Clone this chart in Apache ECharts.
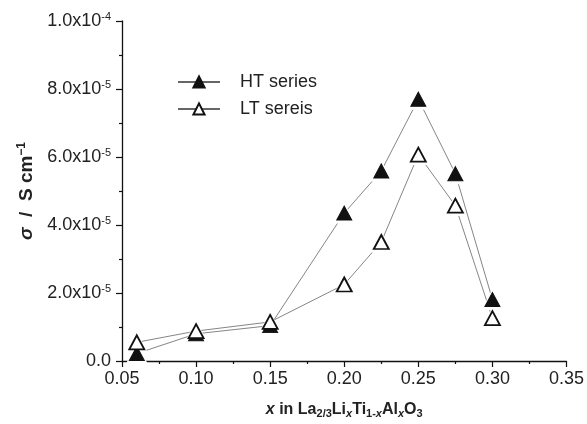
<!DOCTYPE html>
<html>
<head>
<meta charset="utf-8">
<script src="https://cdn.jsdelivr.net/npm/echarts@6/dist/echarts.min.js"></script>
<style>html,body{margin:0;padding:0;background:#fff}#c{width:587px;height:424px}</style>
</head>
<body>
<div id="c"></div>
<script>
const xValues = [0.06, 0.10, 0.15, 0.20, 0.225, 0.25, 0.275, 0.30];
const htSeries = [0.22e-5, 0.80e-5, 1.04e-5, 4.35e-5, 5.59e-5, 7.70e-5, 5.51e-5, 1.81e-5];
const ltSeries = [0.55e-5, 0.88e-5, 1.15e-5, 2.25e-5, 3.50e-5, 6.07e-5, 4.57e-5, 1.26e-5];
const seriesNames = ['HT series', 'LT sereis'];
const xTickLabels = ['0.05', '0.10', '0.15', '0.20', '0.25', '0.30', '0.35'];
const yTickMantissa = ['0.0', '2.0', '4.0', '6.0', '8.0', '1.0'];
const yTickExponent = ['', '-5', '-5', '-5', '-5', '-4'];

const font = 'Liberation Sans, Arial, sans-serif';
const txt = '#222';
const chart = echarts.init(document.getElementById('c'), null, {renderer: 'canvas'});

function pairs(ys) { return xValues.map((x, i) => [x, ys[i]]); }

const markSize = [15, 14];
const haloSize = [22, 21];
const htStyle = {color: '#111', borderColor: '#111', borderWidth: 1, opacity: 1};
const ltStyle = {color: '#fff', borderColor: '#111', borderWidth: 1.8, opacity: 1};

chart.setOption({
  animation: false,
  backgroundColor: '#fff',
  textStyle: {fontFamily: font},
  grid: {left: 122, right: 19, top: 21, bottom: 62},
  legend: {
    left: 172, top: 68, orient: 'vertical', itemGap: 9,
    itemWidth: 42, itemHeight: 14,
    textStyle: {fontFamily: font, fontSize: 18, color: txt, padding: [0, 0, 0, 15]},
    data: seriesNames
  },
  xAxis: {
    type: 'value', min: 0.05, max: 0.35, interval: 0.05,
    axisLine: {lineStyle: {color: '#111', width: 1.3}},
    axisTick: {inside: false, length: 6, lineStyle: {color: '#111', width: 1.2}},
    minorTick: {show: true, splitNumber: 2, length: 3, lineStyle: {color: '#111', width: 1.2}},
    splitLine: {show: false},
    axisLabel: {
      margin: 9, fontSize: 18, color: txt, fontFamily: font,
      formatter: v => xTickLabels[Math.round((v - 0.05) / 0.05)]
    },
    name: '{i|x}{b| in La}{sub|2/3}{b|Li}{subi|x}{b|Ti}{sub|1-}{subi|x}{b|Al}{subi|x}{b|O}{sub|3}',
    nameLocation: 'middle', nameGap: 40,
    nameTextStyle: {
      rich: {
        i: {fontFamily: font, fontSize: 16, fontWeight: 'bold', fontStyle: 'italic', color: txt},
        b: {fontFamily: font, fontSize: 16, fontWeight: 'bold', color: txt},
        sub: {fontFamily: font, fontSize: 11, fontWeight: 'bold', color: txt, verticalAlign: 'bottom', padding: [7, 0, 0, 0]},
        subi: {fontFamily: font, fontSize: 11, fontWeight: 'bold', fontStyle: 'italic', color: txt, verticalAlign: 'bottom', padding: [7, 0, 0, 0]}
      }
    }
  },
  yAxis: {
    type: 'value', min: 0, max: 1e-4, interval: 2e-5,
    axisLine: {show: true, lineStyle: {color: '#111', width: 1.3}},
    axisTick: {show: true, inside: false, length: 6, lineStyle: {color: '#111', width: 1.2}},
    minorTick: {show: true, splitNumber: 2, length: 3, lineStyle: {color: '#111', width: 1.2}},
    splitLine: {show: false},
    axisLabel: {
      margin: 11, fontFamily: font, fontSize: 18, color: txt,
      formatter: v => {
        const k = Math.round(v / 2e-5);
        return yTickExponent[k] ? yTickMantissa[k] + 'x10{s|' + yTickExponent[k] + '}' : yTickMantissa[k];
      },
      rich: {s: {fontFamily: font, fontSize: 11, color: txt, verticalAlign: 'top', padding: [0, 0, 9, 0]}}
    },
    name: '{i|σ}{b|  /  S cm}{s|−1}',
    nameLocation: 'middle', nameGap: 85,
    nameTextStyle: {
      rich: {
        i: {fontFamily: font, fontSize: 19, fontWeight: 'bold', fontStyle: 'italic', color: txt},
        b: {fontFamily: font, fontSize: 19, fontWeight: 'bold', color: txt},
        s: {fontFamily: font, fontSize: 12, fontWeight: 'bold', color: txt, verticalAlign: 'top', padding: [0, 0, 9, 0]}
      }
    }
  },
  series: [
    {
      name: seriesNames[0], type: 'line', data: pairs(htSeries),
      symbol: 'triangle', symbolSize: markSize, itemStyle: htStyle,
      lineStyle: {color: '#666', width: 0.8}, z: 1
    },
    {
      name: seriesNames[1], type: 'line', data: pairs(ltSeries),
      symbol: 'triangle', symbolSize: markSize, itemStyle: ltStyle,
      lineStyle: {color: '#666', width: 0.8}, z: 1
    },
    {
      name: 'halo-ht', type: 'scatter', data: pairs(htSeries), silent: true,
      symbol: 'triangle', symbolSize: haloSize, itemStyle: {color: '#fff', opacity: 1}, z: 2
    },
    {
      name: 'halo-lt', type: 'scatter', data: pairs(ltSeries), silent: true,
      symbol: 'triangle', symbolSize: haloSize, itemStyle: {color: '#fff', opacity: 1}, z: 2
    },
    {
      name: 'marks-ht', type: 'scatter', data: pairs(htSeries),
      symbol: 'triangle', symbolSize: markSize, itemStyle: htStyle, z: 3
    },
    {
      name: 'marks-lt', type: 'scatter', data: pairs(ltSeries),
      symbol: 'triangle', symbolSize: markSize, itemStyle: ltStyle, z: 4
    }
  ]
});
</script>
</body>
</html>
